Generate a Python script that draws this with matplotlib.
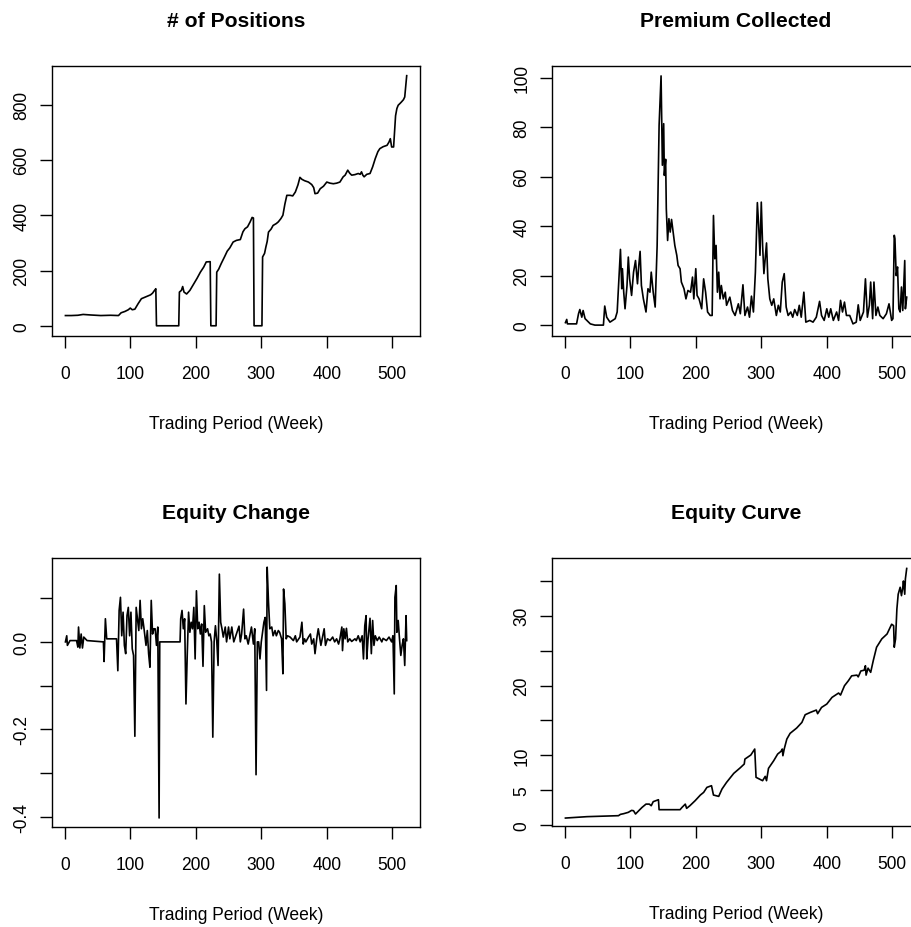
import matplotlib
matplotlib.use("Agg")
import matplotlib.pyplot as plt

# ---------------- data ----------------
pos_weeks = [1, 10, 20, 28, 40, 55, 70, 82, 86, 92, 97, 100, 103, 107, 112, 117, 122, 127, 131, 134, 137, 139,
             140, 174, 175, 178, 180, 182, 186, 191, 196, 202, 207, 212, 216, 222, 223, 231, 232, 235, 239, 244,
             248, 252, 257, 262, 268, 272, 275, 279, 283, 286, 288, 289, 301, 302, 305, 307, 309, 311, 315, 318,
             323, 326, 330, 333, 336, 339, 344, 348, 352, 356, 359, 362, 366, 372, 377, 380, 382, 386, 390, 395,
             400, 405, 410, 415, 420, 425, 428, 432, 435, 438, 443, 448, 451, 453, 455, 457, 461, 466, 470, 474,
             478, 481, 486, 492, 495, 497, 499, 502, 505, 507, 509, 512, 514, 517, 519, 522]
pos_values = [37, 37, 38, 41, 39, 37, 38, 37, 47, 52, 58, 64, 58, 60, 80, 98, 103, 108, 112, 118, 128, 134,
              0, 0, 122, 128, 142, 122, 115, 128, 148, 172, 194, 212, 231, 232, 0, 0, 194, 205, 226, 250,
              270, 282, 303, 309, 312, 340, 351, 358, 376, 392, 390, 0, 0, 249, 262, 285, 305, 339, 350, 363,
              370, 376, 388, 400, 440, 472, 472, 470, 484, 510, 537, 530, 525, 520, 511, 500, 478, 480, 496, 505,
              520, 516, 514, 516, 520, 539, 545, 563, 552, 545, 547, 551, 548, 557, 545, 539, 548, 551, 575, 605,
              630, 641, 648, 653, 665, 677, 647, 647, 760, 786, 798, 805, 810, 818, 828, 905]

prem_weeks = [1, 3, 4, 18, 21, 23, 26, 28, 31, 39, 46, 59, 61, 64, 69, 77, 80, 83, 85, 87, 88, 90, 92, 95, 97, 99,
              102, 105, 108, 111, 113, 115, 117, 120, 124, 127, 130, 132, 135, 138, 141, 144, 147, 149, 151, 152,
              154, 155, 157, 159, 161, 163, 166, 168, 171, 173, 176, 178, 182, 185, 188, 192, 195, 197, 200, 202,
              205, 209, 212, 215, 218, 222, 225, 227, 229, 231, 233, 235, 237, 239, 242, 245, 247, 252, 256, 260,
              265, 268, 272, 275, 279, 282, 285, 288, 291, 294, 296, 298, 300, 302, 304, 306, 308, 310, 313, 316,
              319, 323, 326, 329, 332, 335, 338, 341, 345, 348, 351, 355, 358, 361, 365, 368, 374, 379, 384, 389,
              392, 396, 400, 403, 406, 410, 415, 418, 421, 424, 427, 430, 435, 440, 445, 448, 451, 456, 459, 462,
              465, 467, 470, 472, 475, 478, 481, 486, 491, 495, 499, 501, 503, 504, 506, 508, 510, 512, 514, 516,
              519, 520, 522]
prem_values = [1.0, 2.3, 0.5, 0.5, 4.6, 6.3, 3.2, 5.9, 2.6, 0.5, 0.0, 0.0, 7.7, 3.2, 1.2, 2.6, 5.3, 20, 30.6,
               14.7, 22.8, 13.3, 6.6, 16, 27.5, 18.7, 12, 21.4, 26.1, 16.7, 24.1, 29.8, 16, 10.6, 5.3, 14.7, 13.3,
               21.4, 13.3, 7.3, 32, 80.7, 100.7, 64.6, 81.4, 60.5, 67, 47, 34.2, 43, 37.6, 42.7, 36.3, 32.2, 28.2,
               24.1, 22.8, 17.4, 14.7, 10.6, 14, 13.3, 19.4, 10.6, 22.8, 12, 10.6, 6.6, 18.7, 13.3, 5.3, 3.9, 3.9,
               44.3, 26.8, 32.2, 13.3, 21.4, 10.6, 16, 10.6, 13.3, 8, 11.3, 5.9, 3.9, 8.6, 4.6, 16.3, 3.9, 7.3, 3.2,
               11.7, 5.3, 21.4, 49.5, 40.3, 28.2, 49.7, 32.2, 20.8, 26.8, 33.2, 18.7, 10.6, 8, 10.6, 3.9, 8, 5.3,
               17.4, 20.8, 7.3, 3.9, 5.3, 3.2, 6.3, 3.9, 8, 3.2, 13.3, 1.2, 1.9, 1.2, 3.2, 9.6, 3.9, 1.9, 6.6, 3.2,
               6.6, 1.9, 5.3, 1.9, 10, 5.3, 9.3, 3.9, 3.9, 0.5, 1.2, 8.2, 1.9, 5.3, 18.7, 3.2, 8, 17.4, 2.6, 17.4,
               3.9, 7.3, 3.9, 2.6, 4.6, 8.6, 1.9, 2.6, 36.3, 34.9, 20, 23.5, 6.6, 5.3, 15.4, 5.9, 26.1, 6.6, 11.3]

chg_weeks = [1, 3, 4, 8, 18, 20, 21, 23, 25, 27, 29, 34, 59, 60, 62, 64, 79, 81, 83, 85, 87, 89, 91, 93, 95, 97,
             99, 101, 103, 105, 107, 109, 111, 113, 115, 117, 119, 121, 124, 126, 128, 130, 132, 134, 136, 138,
             140, 142, 144, 145, 176, 177, 179, 181, 183, 185, 187, 189, 191, 193, 195, 197, 199, 201, 203, 205,
             207, 209, 211, 213, 215, 218, 220, 222, 224, 226, 228, 230, 232, 234, 236, 238, 240, 242, 245, 247,
             250, 252, 255, 258, 262, 266, 268, 270, 273, 275, 277, 280, 283, 285, 288, 290, 292, 294, 296, 298,
             300, 302, 304, 306, 308, 309, 311, 313, 316, 318, 321, 323, 326, 328, 331, 333, 334, 336, 338, 340,
             344, 349, 352, 354, 359, 362, 364, 366, 368, 372, 375, 377, 380, 382, 385, 387, 391, 393, 396, 398,
             401, 405, 409, 412, 415, 418, 420, 423, 424, 426, 428, 430, 432, 435, 438, 443, 445, 448, 451, 454,
             456, 458, 460, 461, 463, 466, 468, 470, 472, 474, 477, 480, 484, 486, 491, 495, 499, 501, 503, 504,
             506, 507, 509, 511, 513, 515, 517, 519, 521, 522]
chg_values = [0.0, 0.014, -0.008, 0.003, 0.003, -0.012, 0.034, -0.014, 0.018, -0.014, 0.011, 0.003, 0.0, -0.045,
              0.053, 0.007, 0.007, -0.066, 0.072, 0.102, 0.014, 0.068, -0.008, -0.027, 0.06, 0.079, 0.014, 0.068,
              -0.016, -0.031, -0.216, 0.079, 0.053, 0.026, 0.095, 0.03, 0.053, 0.03, -0.008, 0.026, -0.027, -0.058,
              0.095, 0.018, 0.03, 0.03, -0.008, 0.034, -0.403, 0.0, 0.0, 0.053, 0.072, 0.03, 0.053, -0.142, -0.027,
              0.068, 0.022, 0.045, 0.03, 0.079, -0.039, 0.117, 0.03, 0.045, 0.018, 0.041, -0.056, 0.083, 0.022, 0.03,
              0.014, 0.018, 0.0, -0.218, 0.0, 0.037, 0.003, -0.054, 0.155, 0.045, 0.03, 0.011, 0.034, 0.0, 0.034,
              0.007, 0.034, 0.0, 0.018, 0.036, 0.0, 0.018, 0.075, 0.007, 0.014, -0.005, 0.018, 0.034, -0.005, 0.03,
              -0.304, 0.0, 0.0, -0.039, 0.0, 0.022, 0.045, 0.056, -0.111, 0.171, 0.091, 0.03, 0.034, 0.014, 0.026,
              0.014, 0.026, 0.022, 0.007, -0.073, 0.121, 0.087, 0.007, 0.014, 0.011, 0.003, 0.014, 0.0, 0.011,
              0.045, -0.005, 0.007, 0.0, 0.011, 0.018, -0.005, 0.007, -0.027, 0.011, 0.03, -0.008, 0.007, 0.03,
              -0.008, 0.007, 0.003, 0.011, 0.0, 0.007, -0.005, 0.007, 0.034, -0.02, 0.03, 0.007, 0.031, 0.0, 0.007,
              0.001, 0.007, 0.003, 0.014, 0.0, 0.014, -0.039, 0.037, 0.06, -0.039, 0.007, 0.054, -0.027, 0.049,
              -0.008, 0.014, 0.003, 0.011, 0.0, 0.008, 0.003, 0.011, 0.0, 0.014, -0.119, 0.102, 0.129, 0.022, 0.049,
              0.007, -0.031, -0.008, 0.007, -0.054, 0.06, 0.003]

eq_weeks = [1, 34, 82, 85, 90, 97, 102, 105, 108, 113, 118, 124, 129, 132, 135, 143, 144, 176, 179, 184, 186, 191,
            199, 207, 212, 217, 224, 227, 235, 240, 247, 258, 268, 274, 275, 284, 290, 292, 297, 302, 306, 308, 311,
            319, 325, 330, 332, 333, 335, 339, 344, 354, 362, 367, 375, 384, 386, 392, 400, 408, 418, 421, 427,
            433, 438, 446, 448, 452, 457, 459, 460, 463, 467, 471, 476, 484, 492, 499, 502, 503, 505, 507, 509,
            512, 514, 516, 517, 519, 520, 522]
eq_values = [1.0, 1.2, 1.34, 1.53, 1.63, 1.82, 2.1, 2.05, 1.58, 2.06, 2.53, 3.0, 3.0, 2.77, 3.35, 3.63, 2.2, 2.2,
             2.53, 3.0, 2.39, 2.77, 3.49, 4.3, 4.68, 5.4, 5.64, 4.3, 4.11, 5.16, 6.12, 7.41, 8.22, 8.75, 9.46,
             10.04, 10.9, 6.84, 6.6, 6.36, 6.98, 6.36, 8.13, 9.23, 10.18, 10.56, 10.9, 9.94, 10.9, 12.33, 13.15,
             13.91, 14.72, 15.82, 16.16, 16.49, 15.97, 16.87, 17.35, 18.31, 18.93, 18.64, 19.98, 20.7, 21.4, 21.5,
             21.25, 22.1, 22.2, 22.85, 21.5, 22.5, 21.9, 23.6, 25.5, 26.7, 27.4, 28.8, 28.6, 25.5, 26.7, 30.97,
             33.1, 34.1, 32.9, 34.1, 35.0, 33.1, 35.3, 36.8]

weeks_ticks = [0, 100, 200, 300, 400, 500]

# ---------------- styling ----------------
plt.rcParams['font.family'] = ['Liberation Sans', 'DejaVu Sans']
BASE = 12.65
TITLE = 15.2

W, H = 911, 928
fig = plt.figure(figsize=(W / 100, H / 100), dpi=100)


def make_ax(left, top, right, bottom):
    return fig.add_axes([left / W, 1 - bottom / H, (right - left) / W, (bottom - top) / H])


panels = [
    dict(box=(52, 67, 420, 337), x=pos_weeks, y=pos_values, title="# of Positions",
         ylim=(-37, 940), yticks=[0, 200, 400, 600, 800], ylabels=["0", "200", "400", "600", "800"]),
    dict(box=(552, 67, 920, 337), x=prem_weeks, y=prem_values, title="Premium Collected",
         ylim=(-4.4, 104.7), yticks=[0, 20, 40, 60, 80, 100], ylabels=["0", "20", "40", "60", "80", "100"]),
    dict(box=(52, 559, 420, 828), x=chg_weeks, y=chg_values, title="Equity Change",
         ylim=(-0.4237, 0.192), yticks=[-0.4, -0.3, -0.2, -0.1, 0.0, 0.1],
         ylabels=["-0.4", "", "-0.2", "", "0.0", ""]),
    dict(box=(552, 559, 920, 827), x=eq_weeks, y=eq_values, title="Equity Curve",
         ylim=(-0.14, 38.3), yticks=[0, 5, 10, 15, 20, 25, 30, 35],
         ylabels=["0", "5", "10", "", "20", "", "30", ""]),
]

for p in panels:
    ax = make_ax(*p["box"])
    ax.plot(p["x"], p["y"], color="black", linewidth=1.2)
    ax.set_xlim(-19.5, 542.3)
    ax.set_ylim(*p["ylim"])
    ax.set_xticks(weeks_ticks)
    ax.set_xticklabels([str(t) for t in weeks_ticks])
    ax.set_yticks(p["yticks"])
    ax.set_yticklabels(p["ylabels"])
    for s in ax.spines.values():
        s.set_linewidth(1.0)
        s.set_color("black")
    ax.tick_params(axis="both", direction="out", length=8.6, width=1.0, labelsize=BASE, colors="black")
    ax.tick_params(axis="x", pad=12.5)
    ax.tick_params(axis="y", pad=7, labelrotation=90)
    for lab in ax.get_yticklabels():
        lab.set_va("center")
    ax.set_title(p["title"], fontsize=TITLE, fontweight="bold", pad=29)
    ax.annotate("Trading Period (Week)", xy=(0.5, 0), xycoords="axes fraction",
                xytext=(0, -66.2), textcoords="offset points", ha="center", va="baseline",
                fontsize=BASE)

fig.savefig("out.png", dpi=100)
